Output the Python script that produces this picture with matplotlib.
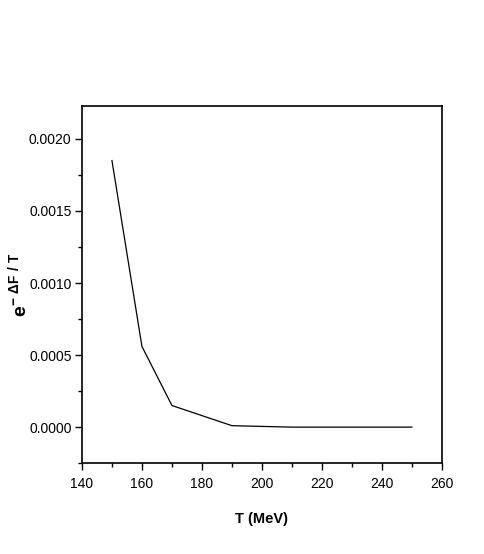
import matplotlib
matplotlib.use("Agg")
import matplotlib.pyplot as plt
from matplotlib.ticker import MultipleLocator

plt.rcParams['font.family'] = ['Liberation Sans', 'DejaVu Sans']
plt.rcParams['mathtext.fontset'] = 'custom'
plt.rcParams['mathtext.rm'] = 'Liberation Sans'
plt.rcParams['mathtext.bf'] = 'Liberation Sans:bold'

T = [150, 160, 170, 180, 190, 200, 210, 220, 230, 240, 250]
w = [0.00185, 0.00056, 0.00015, 0.00008, 0.00001, 0.000005, 0.0, 0.0, 0.0, 0.0, 0.0]

fig = plt.figure(figsize=(4.85, 5.54), dpi=100)
ax = fig.add_axes([0.169, 0.164, 0.742, 0.645])

ax.plot(T, w, color='black', lw=0.9)

ax.set_xlim(140, 260)
ax.set_ylim(-0.00025, 0.00223)
ax.xaxis.set_major_locator(MultipleLocator(20))
ax.xaxis.set_minor_locator(MultipleLocator(10))
ax.yaxis.set_major_locator(MultipleLocator(0.0005))
ax.yaxis.set_minor_locator(MultipleLocator(0.00025))
ax.yaxis.set_major_formatter(plt.FormatStrFormatter('%.4f'))

ax.tick_params(which='both', direction='out', top=False, right=False, width=1)
ax.tick_params(which='major', length=5, labelsize=10)
ax.tick_params(axis='y', which='major', pad=2.5)
ax.tick_params(axis='x', which='major', pad=5)
ax.tick_params(which='minor', length=3)
for s in ax.spines.values():
    s.set_linewidth(1.2)

ax.set_xlabel('T (MeV)', fontsize=10.5, fontweight='bold', labelpad=15)
ax.set_ylabel(r'$\mathbf{e}^{\mathbf{-\ \Delta F\ /\ T}}$', fontsize=14)
ax.yaxis.set_label_coords(-0.14, 0.5)

fig.savefig('out.png', dpi=100)
